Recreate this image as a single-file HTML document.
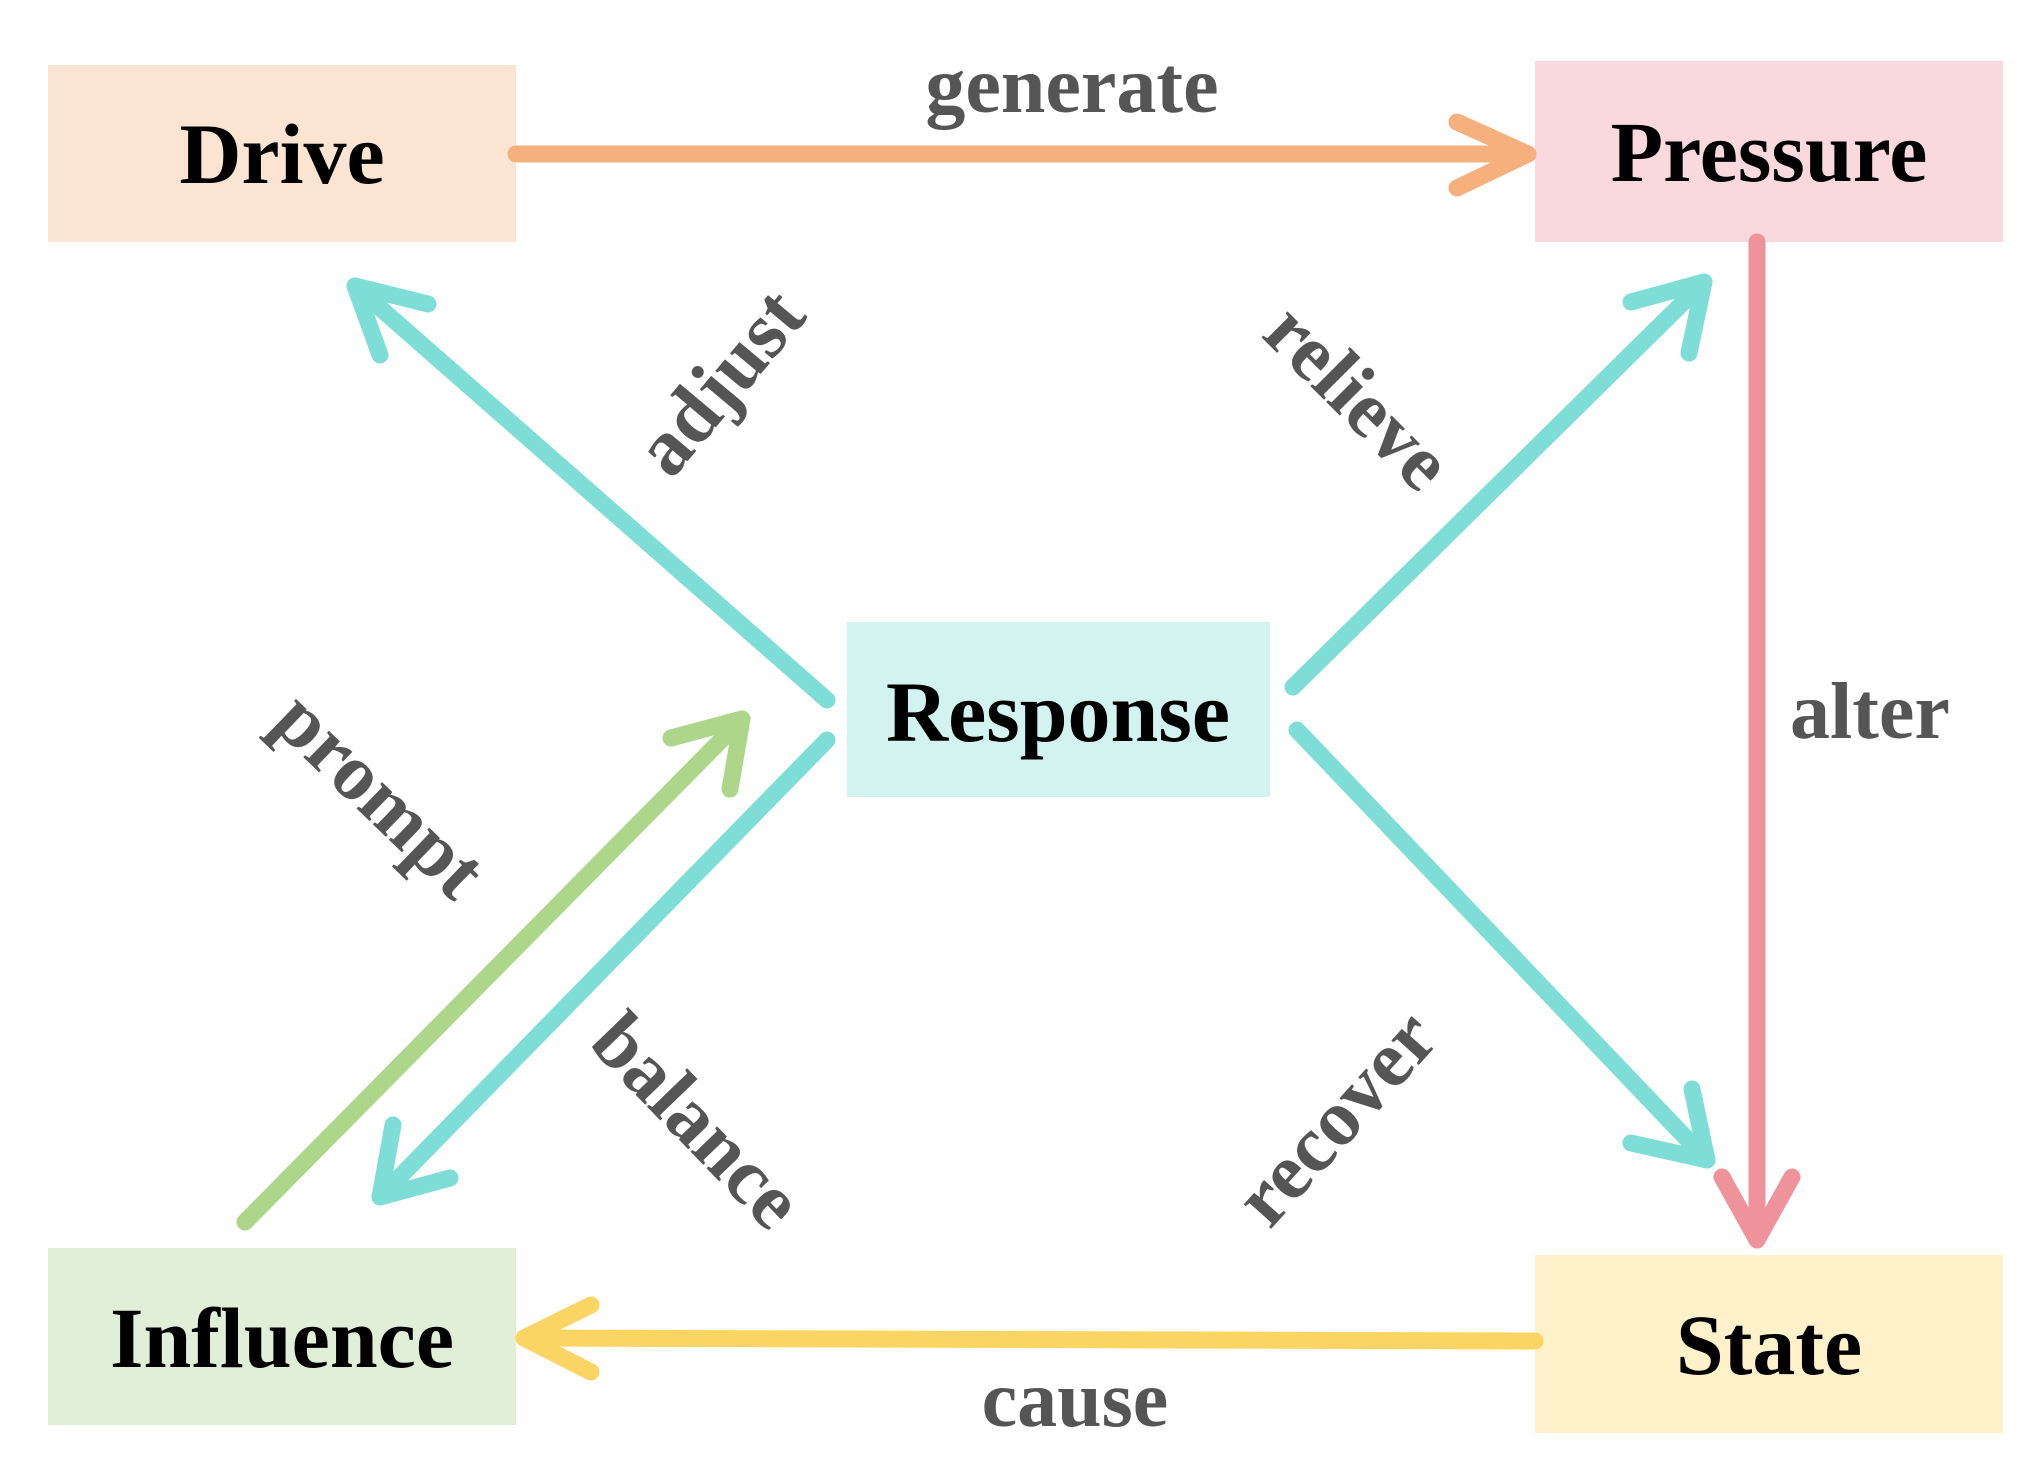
<!DOCTYPE html>
<html><head><meta charset="utf-8"><style>
html,body{margin:0;padding:0;background:#fff}
svg{display:block}
.n{font-family:"Liberation Serif",serif;font-weight:bold;font-size:86px;fill:#000}
.l{font-family:"Liberation Serif",serif;font-weight:bold;font-size:80px;fill:#555}
</style></head><body>
<svg width="2033" height="1473" viewBox="0 0 2033 1473" xmlns="http://www.w3.org/2000/svg">
<rect x="48" y="65" width="468" height="177" fill="#FCE4D3"/>
<rect x="1535" y="61" width="468" height="181" fill="#F9D9DE"/>
<rect x="48" y="1248" width="468" height="177" fill="#E2EFD8"/>
<rect x="1535" y="1255" width="468" height="178" fill="#FFF1C9"/>
<rect x="847" y="622" width="423" height="175" fill="#D3F3F0"/>
<g fill="none" stroke-linecap="round" stroke-linejoin="round" stroke-width="17">
<g stroke="#F5B07E"><line x1="516" y1="154" x2="1528" y2="154"/><polyline points="1457,122 1528,154 1457,188"/></g>
<g stroke="#EE939C"><line x1="1757" y1="242" x2="1757" y2="1240"/><polyline points="1722,1177 1757,1240 1792,1177"/></g>
<g stroke="#FAD564"><line x1="1535" y1="1341" x2="524" y2="1338"/><polyline points="591,1305 524,1338 591,1372"/></g>
<g stroke="#7EDDD6">
<line x1="827" y1="700" x2="355" y2="286"/><polyline points="428,304 355,286 380,355"/>
<line x1="1293" y1="687" x2="1704" y2="282"/><polyline points="1631,302 1704,282 1689,353"/>
<line x1="1297" y1="730" x2="1707" y2="1160"/><polyline points="1631,1143 1707,1160 1692,1089"/>
<line x1="827" y1="740" x2="380" y2="1197"/><polyline points="450,1178 380,1197 393,1125"/>
</g>
<g stroke="#ADD68A"><line x1="245" y1="1222" x2="742" y2="719"/><polyline points="671,738 742,719 730,789"/></g>
</g>
<g text-anchor="middle" dominant-baseline="central">
<text class="n" x="282" y="154">Drive</text>
<text class="n" x="1769" y="152">Pressure</text>
<text class="n" x="282" y="1338">Influence</text>
<text class="n" x="1769" y="1345">State</text>
<text class="n" x="1058" y="712">Response</text>
<text class="l" x="1072" y="86">generate</text>
<text class="l" x="1075" y="1400">cause</text>
<text class="l" x="1870" y="712">alter</text>
<text class="l" transform="translate(720,382) rotate(-50)">adjust</text>
<text class="l" transform="translate(1358,397) rotate(45)">relieve</text>
<text class="l" transform="translate(380,795) rotate(44)">prompt</text>
<text class="l" transform="translate(697,1121) rotate(46)">balance</text>
<text class="l" transform="translate(1336,1118) rotate(-48)">recover</text>
</g>
</svg>
</body></html>
